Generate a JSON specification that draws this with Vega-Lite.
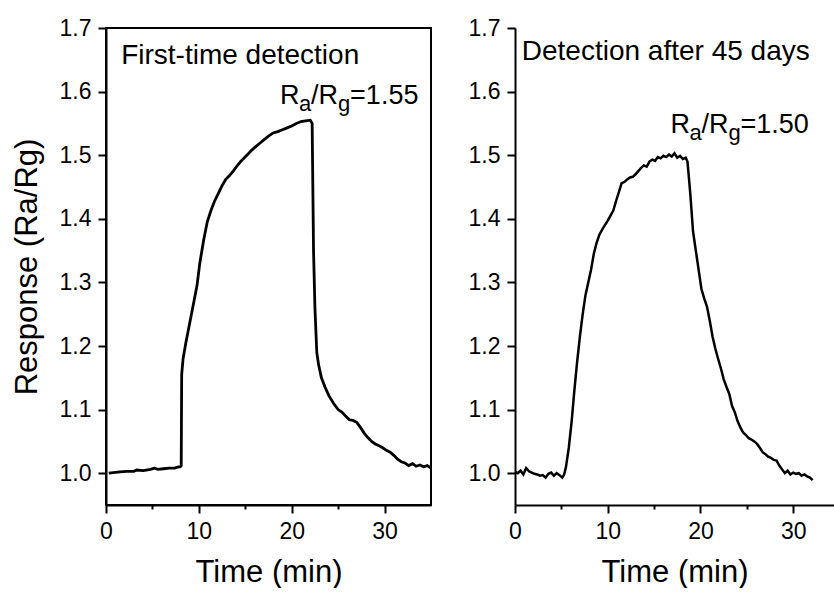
{
  "$schema": "https://vega.github.io/schema/vega-lite/v6.json",
  "padding": {"left": 10, "top": 16, "right": 0, "bottom": 0},
  "background": "white",
  "spacing": 30,
  "config": {
    "font": "Liberation Sans",
    "view": {"stroke": "black", "strokeWidth": 2},
    "axis": {
      "grid": false,
      "labelFont": "Liberation Sans",
      "labelFontSize": 23,
      "labelColor": "black",
      "labelFlush": false,
      "labelOverlap": false,
      "labelPadding": 7,
      "titleFont": "Liberation Sans",
      "titleFontSize": 31,
      "titleFontWeight": "normal",
      "titleColor": "black",
      "domainColor": "black",
      "domainWidth": 2,
      "tickColor": "black",
      "tickWidth": 2
    }
  },
  "datasets": {
    "first": [
      {"t": 0.3, "v": 1.000}, {"t": 0.8, "v": 1.001}, {"t": 1.5, "v": 1.002}, {"t": 2.2, "v": 1.003},
      {"t": 3.0, "v": 1.003}, {"t": 3.3, "v": 1.005}, {"t": 4.0, "v": 1.004}, {"t": 4.8, "v": 1.006},
      {"t": 5.2, "v": 1.008}, {"t": 5.6, "v": 1.006}, {"t": 6.2, "v": 1.007}, {"t": 6.8, "v": 1.008},
      {"t": 7.4, "v": 1.008}, {"t": 7.8, "v": 1.010}, {"t": 8.0, "v": 1.010}, {"t": 8.1, "v": 1.012},
      {"t": 8.15, "v": 1.155}, {"t": 8.3, "v": 1.180}, {"t": 8.6, "v": 1.205}, {"t": 9.0, "v": 1.235},
      {"t": 9.4, "v": 1.265}, {"t": 9.8, "v": 1.295}, {"t": 10.1, "v": 1.330}, {"t": 10.5, "v": 1.365},
      {"t": 10.9, "v": 1.395}, {"t": 11.3, "v": 1.413}, {"t": 11.7, "v": 1.428}, {"t": 12.1, "v": 1.440},
      {"t": 12.5, "v": 1.452}, {"t": 12.9, "v": 1.462}, {"t": 13.3, "v": 1.468}, {"t": 13.7, "v": 1.475},
      {"t": 14.1, "v": 1.483}, {"t": 14.5, "v": 1.490}, {"t": 14.9, "v": 1.496}, {"t": 15.3, "v": 1.502},
      {"t": 15.7, "v": 1.508}, {"t": 16.1, "v": 1.513}, {"t": 16.5, "v": 1.518}, {"t": 17.0, "v": 1.524},
      {"t": 17.5, "v": 1.530}, {"t": 18.0, "v": 1.535}, {"t": 18.5, "v": 1.537}, {"t": 19.0, "v": 1.540},
      {"t": 19.5, "v": 1.543}, {"t": 20.0, "v": 1.546}, {"t": 20.5, "v": 1.550}, {"t": 21.0, "v": 1.553},
      {"t": 21.5, "v": 1.554}, {"t": 22.0, "v": 1.555}, {"t": 22.2, "v": 1.550},
      {"t": 22.35, "v": 1.350}, {"t": 22.5, "v": 1.260}, {"t": 22.7, "v": 1.190}, {"t": 22.9, "v": 1.170},
      {"t": 23.2, "v": 1.150}, {"t": 23.6, "v": 1.135}, {"t": 24.0, "v": 1.122}, {"t": 24.5, "v": 1.110},
      {"t": 25.0, "v": 1.100}, {"t": 25.4, "v": 1.096}, {"t": 25.8, "v": 1.090}, {"t": 26.2, "v": 1.084},
      {"t": 26.6, "v": 1.083}, {"t": 27.0, "v": 1.080}, {"t": 27.4, "v": 1.072}, {"t": 27.8, "v": 1.063},
      {"t": 28.2, "v": 1.056}, {"t": 28.6, "v": 1.050}, {"t": 29.0, "v": 1.046}, {"t": 29.4, "v": 1.043},
      {"t": 29.8, "v": 1.040}, {"t": 30.2, "v": 1.036}, {"t": 30.6, "v": 1.033}, {"t": 31.0, "v": 1.028},
      {"t": 31.4, "v": 1.022}, {"t": 31.8, "v": 1.018}, {"t": 32.2, "v": 1.016}, {"t": 32.6, "v": 1.012},
      {"t": 33.0, "v": 1.015}, {"t": 33.4, "v": 1.011}, {"t": 33.8, "v": 1.013}, {"t": 34.2, "v": 1.010},
      {"t": 34.6, "v": 1.012}, {"t": 35.0, "v": 1.008}
    ],
    "later": [
      {"t": 0.0, "v": 1.002}, {"t": 0.3, "v": 1.000}, {"t": 0.6, "v": 1.004}, {"t": 0.9, "v": 0.998},
      {"t": 1.2, "v": 1.008}, {"t": 1.5, "v": 1.003}, {"t": 1.8, "v": 1.001}, {"t": 2.1, "v": 0.999},
      {"t": 2.4, "v": 0.998}, {"t": 2.7, "v": 0.996}, {"t": 3.0, "v": 0.997}, {"t": 3.3, "v": 0.993},
      {"t": 3.6, "v": 0.999}, {"t": 3.9, "v": 1.001}, {"t": 4.2, "v": 0.996}, {"t": 4.5, "v": 1.000},
      {"t": 4.8, "v": 0.997}, {"t": 5.1, "v": 0.993}, {"t": 5.3, "v": 0.998}, {"t": 5.5, "v": 1.010},
      {"t": 5.8, "v": 1.040}, {"t": 6.1, "v": 1.080}, {"t": 6.4, "v": 1.130}, {"t": 6.7, "v": 1.175},
      {"t": 7.0, "v": 1.215}, {"t": 7.3, "v": 1.250}, {"t": 7.6, "v": 1.280}, {"t": 7.9, "v": 1.300},
      {"t": 8.2, "v": 1.320}, {"t": 8.5, "v": 1.345}, {"t": 8.8, "v": 1.362}, {"t": 9.1, "v": 1.375},
      {"t": 9.4, "v": 1.383}, {"t": 9.7, "v": 1.390}, {"t": 10.0, "v": 1.397}, {"t": 10.3, "v": 1.405},
      {"t": 10.6, "v": 1.413}, {"t": 10.9, "v": 1.428}, {"t": 11.2, "v": 1.442}, {"t": 11.5, "v": 1.456},
      {"t": 11.8, "v": 1.458}, {"t": 12.1, "v": 1.462}, {"t": 12.4, "v": 1.465}, {"t": 12.7, "v": 1.466},
      {"t": 13.0, "v": 1.470}, {"t": 13.3, "v": 1.475}, {"t": 13.6, "v": 1.480}, {"t": 13.9, "v": 1.484},
      {"t": 14.2, "v": 1.482}, {"t": 14.5, "v": 1.490}, {"t": 14.8, "v": 1.493}, {"t": 15.1, "v": 1.491},
      {"t": 15.4, "v": 1.497}, {"t": 15.7, "v": 1.495}, {"t": 16.0, "v": 1.499}, {"t": 16.3, "v": 1.497},
      {"t": 16.6, "v": 1.501}, {"t": 16.9, "v": 1.498}, {"t": 17.2, "v": 1.503}, {"t": 17.5, "v": 1.496},
      {"t": 17.8, "v": 1.499}, {"t": 18.1, "v": 1.494}, {"t": 18.4, "v": 1.496}, {"t": 18.6, "v": 1.490},
      {"t": 18.9, "v": 1.440}, {"t": 19.2, "v": 1.380}, {"t": 19.5, "v": 1.350}, {"t": 19.8, "v": 1.320},
      {"t": 20.1, "v": 1.290}, {"t": 20.4, "v": 1.275}, {"t": 20.7, "v": 1.262}, {"t": 21.0, "v": 1.240},
      {"t": 21.3, "v": 1.215}, {"t": 21.6, "v": 1.196}, {"t": 21.9, "v": 1.180}, {"t": 22.2, "v": 1.165},
      {"t": 22.5, "v": 1.148}, {"t": 22.8, "v": 1.136}, {"t": 23.1, "v": 1.125}, {"t": 23.4, "v": 1.106},
      {"t": 23.7, "v": 1.096}, {"t": 24.0, "v": 1.082}, {"t": 24.3, "v": 1.072}, {"t": 24.6, "v": 1.064},
      {"t": 24.9, "v": 1.060}, {"t": 25.2, "v": 1.055}, {"t": 25.5, "v": 1.053}, {"t": 25.8, "v": 1.050},
      {"t": 26.1, "v": 1.046}, {"t": 26.4, "v": 1.040}, {"t": 26.7, "v": 1.033}, {"t": 27.0, "v": 1.030},
      {"t": 27.3, "v": 1.026}, {"t": 27.6, "v": 1.024}, {"t": 27.9, "v": 1.021}, {"t": 28.2, "v": 1.020},
      {"t": 28.5, "v": 1.012}, {"t": 28.8, "v": 1.006}, {"t": 29.1, "v": 1.000}, {"t": 29.4, "v": 1.004},
      {"t": 29.7, "v": 0.998}, {"t": 30.0, "v": 1.001}, {"t": 30.3, "v": 0.999}, {"t": 30.6, "v": 1.000},
      {"t": 30.9, "v": 0.996}, {"t": 31.2, "v": 0.998}, {"t": 31.5, "v": 0.995}, {"t": 31.8, "v": 0.993},
      {"t": 32.1, "v": 0.989}
    ],
    "ann1": [{"t": 1.63, "v": 1.644, "label": "First-time detection"}],
    "ann2": [{"t": 0.73, "v": 1.649, "label": "Detection after 45 days"}],
    "ratio1": [{"t": 18.75, "v": 1.5805, "value": "=1.55"}],
    "ratio2": [{"t": 16.76, "v": 1.535, "value": "=1.50"}]
  },
  "hconcat": [
    {
      "width": 325,
      "height": 477,
      "layer": [
        {
          "data": {"name": "first"},
          "mark": {"type": "line", "color": "black", "strokeWidth": 2.8},
          "encoding": {
            "x": {
              "field": "t", "type": "quantitative", "title": "Time (min)",
              "scale": {"domain": [0, 35], "nice": false, "zero": false},
              "axis": {
                "titlePadding": 14,
                "values": [0, 5, 10, 15, 20, 25, 30],
                "labelExpr": "datum.value % 10 == 0 ? datum.label : ''",
                "tickSize": {"condition": {"test": "datum.value % 10 == 0", "value": 8}, "value": 4}
              }
            },
            "y": {
              "field": "v", "type": "quantitative", "title": "Response (Ra/Rg)",
              "scale": {"domain": [0.95, 1.7], "nice": false, "zero": false},
              "axis": {
                "titlePadding": 16,
                "values": [1.0, 1.05, 1.1, 1.15, 1.2, 1.25, 1.3, 1.35, 1.4, 1.45, 1.5, 1.55, 1.6, 1.65, 1.7],
                "labelExpr": "round(datum.value * 100) % 10 == 0 ? format(datum.value, '.1f') : ''",
                "tickSize": {"condition": {"test": "round(datum.value * 100) % 10 == 0", "value": 8}, "value": 4}
              }
            }
          }
        },
        {
          "data": {"name": "ann1"},
          "mark": {"type": "text", "align": "left", "baseline": "alphabetic", "fontSize": 28, "color": "black"},
          "encoding": {
            "x": {"field": "t", "type": "quantitative", "title": "Time (min)"},
            "y": {"field": "v", "type": "quantitative", "title": "Response (Ra/Rg)"},
            "text": {"field": "label"}
          }
        },
        {
          "data": {"name": "ratio1"},
          "encoding": {
            "x": {"field": "t", "type": "quantitative", "title": "Time (min)"},
            "y": {"field": "v", "type": "quantitative", "title": "Response (Ra/Rg)"}
          },
          "layer": [
            {"mark": {"type": "text", "text": "R", "align": "left", "baseline": "alphabetic", "fontSize": 27, "color": "black"}},
            {"mark": {"type": "text", "text": "a", "align": "left", "baseline": "alphabetic", "fontSize": 22, "dx": 19, "dy": 7, "color": "black"}},
            {"mark": {"type": "text", "text": "/R", "align": "left", "baseline": "alphabetic", "fontSize": 27, "dx": 31, "color": "black"}},
            {"mark": {"type": "text", "text": "g", "align": "left", "baseline": "alphabetic", "fontSize": 22, "dx": 58, "dy": 7, "color": "black"}},
            {"mark": {"type": "text", "align": "left", "baseline": "alphabetic", "fontSize": 27, "dx": 70, "color": "black"}, "encoding": {"text": {"field": "value"}}}
          ]
        }
      ]
    },
    {
      "width": 319,
      "height": 477,
      "view": {"stroke": null},
      "layer": [
        {
          "data": {"name": "later"},
          "mark": {"type": "line", "color": "black", "strokeWidth": 2.5},
          "encoding": {
            "x": {
              "field": "t", "type": "quantitative", "title": "Time (min)",
              "scale": {"domain": [0, 34.4], "nice": false, "zero": false},
              "axis": {
                "titlePadding": 14,
                "values": [0, 5, 10, 15, 20, 25, 30],
                "labelExpr": "datum.value % 10 == 0 ? datum.label : ''",
                "tickSize": {"condition": {"test": "datum.value % 10 == 0", "value": 8}, "value": 4}
              }
            },
            "y": {
              "field": "v", "type": "quantitative", "title": null,
              "scale": {"domain": [0.95, 1.7], "nice": false, "zero": false},
              "axis": {
                "values": [1.0, 1.05, 1.1, 1.15, 1.2, 1.25, 1.3, 1.35, 1.4, 1.45, 1.5, 1.55, 1.6, 1.65, 1.7],
                "labelExpr": "round(datum.value * 100) % 10 == 0 ? format(datum.value, '.1f') : ''",
                "tickSize": {"condition": {"test": "round(datum.value * 100) % 10 == 0", "value": 8}, "value": 4}
              }
            }
          }
        },
        {
          "mark": {"type": "rule", "color": "black", "strokeWidth": 2},
          "encoding": {"y": {"datum": 1.7, "type": "quantitative", "title": null}}
        },
        {
          "data": {"name": "ann2"},
          "mark": {"type": "text", "align": "left", "baseline": "alphabetic", "fontSize": 28, "color": "black"},
          "encoding": {
            "x": {"field": "t", "type": "quantitative", "title": "Time (min)"},
            "y": {"field": "v", "type": "quantitative", "title": null},
            "text": {"field": "label"}
          }
        },
        {
          "data": {"name": "ratio2"},
          "encoding": {
            "x": {"field": "t", "type": "quantitative", "title": "Time (min)"},
            "y": {"field": "v", "type": "quantitative", "title": null}
          },
          "layer": [
            {"mark": {"type": "text", "text": "R", "align": "left", "baseline": "alphabetic", "fontSize": 27, "color": "black"}},
            {"mark": {"type": "text", "text": "a", "align": "left", "baseline": "alphabetic", "fontSize": 22, "dx": 19, "dy": 7, "color": "black"}},
            {"mark": {"type": "text", "text": "/R", "align": "left", "baseline": "alphabetic", "fontSize": 27, "dx": 31, "color": "black"}},
            {"mark": {"type": "text", "text": "g", "align": "left", "baseline": "alphabetic", "fontSize": 22, "dx": 58, "dy": 7, "color": "black"}},
            {"mark": {"type": "text", "align": "left", "baseline": "alphabetic", "fontSize": 27, "dx": 70, "color": "black"}, "encoding": {"text": {"field": "value"}}}
          ]
        }
      ]
    }
  ]
}
